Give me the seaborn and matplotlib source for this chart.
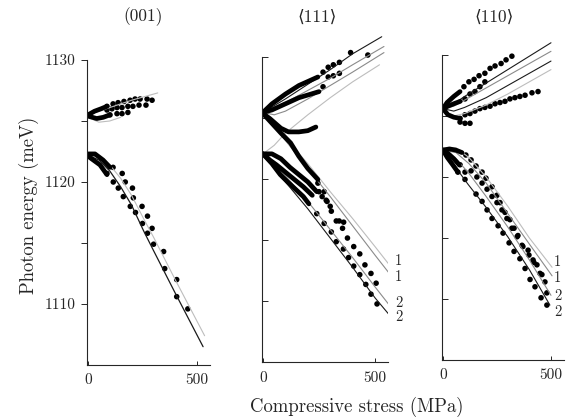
import matplotlib
matplotlib.use("Agg")
import matplotlib.pyplot as plt
import seaborn as sns

# ---------------- panel 1 : (001) ----------------
p1_low_dark_x = [0, 50, 100, 150, 200, 255, 300, 400, 528]
p1_low_dark_y = [1122.2, 1121.8, 1120.9, 1119.6, 1118.1, 1116.0, 1114.4, 1110.9, 1106.5]
p1_low_gray_x = [0, 50, 100, 150, 200, 255, 300, 400, 535]
p1_low_gray_y = [1122.2, 1122.0, 1121.4, 1120.3, 1118.9, 1117.0, 1115.5, 1112.0, 1107.4]
p1_up_gray_x = [0, 100, 200, 320]
p1_up_gray_y = [1125.5, 1126.1, 1126.7, 1127.3]
p1_up_gray2_x = [0, 50, 100, 150]
p1_up_gray2_y = [1125.3, 1124.9, 1125.0, 1125.3]

p1_band_up1_x = [0, 30, 60, 87]
p1_band_up1_y = [1125.5, 1125.8, 1126.0, 1126.2]
p1_band_up2_x = [0, 40, 70, 100]
p1_band_up2_y = [1125.4, 1125.2, 1125.3, 1125.5]
p1_band_low1_x = [0, 32, 69, 101]
p1_band_low1_y = [1122.3, 1122.3, 1121.8, 1121.2]
p1_band_low2_x = [0, 9, 55, 87]
p1_band_low2_y = [1122.2, 1122.0, 1121.4, 1120.6]

p1_dots_up_a_x = [87, 115, 138, 165, 193, 216, 239, 271, 294]
p1_dots_up_a_y = [1126.2, 1126.4, 1126.5, 1126.6, 1126.7, 1126.8, 1126.8, 1126.8, 1126.7]
p1_dots_up_b_x = [87, 110, 133, 156, 183, 206, 234, 266]
p1_dots_up_b_y = [1125.9, 1126.0, 1126.1, 1126.1, 1126.2, 1126.2, 1126.3, 1126.3]
p1_dots_up_c_x = [101, 133, 156, 183]
p1_dots_up_c_y = [1125.5, 1125.6, 1125.6, 1125.7]
p1_dots_low_a_x = [87, 115, 116, 139, 162, 194, 218, 250, 273, 301, 352, 407, 458]
p1_dots_low_a_y = [1120.7, 1121.2, 1120.0, 1119.5, 1118.8, 1118.0, 1117.5, 1116.6, 1115.8, 1114.9, 1112.9, 1110.6, 1109.6]
p1_dots_low_b_x = [157, 171, 204, 208, 248, 273, 294, 347, 407]
p1_dots_low_b_y = [1120.7, 1120.0, 1119.5, 1118.7, 1118.0, 1117.2, 1116.2, 1114.3, 1112.0]

# ---------------- panel 2 : <111> ----------------
p2_up_black_x = [0, 100, 200, 300, 400, 530]
p2_up_black_y = [1125.5, 1126.6, 1127.8, 1129.0, 1130.3, 1131.7]
p2_up_gray_x = [0, 100, 200, 300, 400, 540]
p2_up_gray_y = [1125.5, 1126.3, 1127.3, 1128.3, 1129.4, 1130.9]
p2_up_gray2_x = [0, 50, 100, 200, 300, 400, 540]
p2_up_gray2_y = [1125.5, 1125.3, 1125.6, 1126.6, 1127.7, 1128.8, 1130.4]
p2_rise_light_x = [0, 50, 100, 200, 300, 400, 520]
p2_rise_light_y = [1122.1, 1122.8, 1123.8, 1125.3, 1126.7, 1128.0, 1129.4]
p2_l1a_x = [0, 114, 200, 300, 400, 500, 564]
p2_l1a_y = [1125.5, 1123.1, 1121.3, 1119.0, 1116.8, 1114.5, 1113.0]
p2_l1b_x = [0, 100, 200, 300, 400, 500, 564]
p2_l1b_y = [1125.5, 1123.2, 1120.9, 1118.6, 1116.2, 1113.8, 1112.3]
p2_l2a_x = [0, 50, 100, 200, 300, 400, 500, 564]
p2_l2a_y = [1122.1, 1121.2, 1120.3, 1118.2, 1115.9, 1113.6, 1111.2, 1109.7]
p2_l2b_x = [0, 50, 100, 200, 300, 400, 500, 564]
p2_l2b_y = [1122.1, 1120.9, 1119.8, 1117.6, 1115.2, 1112.8, 1110.3, 1108.9]

p2_band_u1_x = [0, 40, 100, 160, 245]
p2_band_u1_y = [1125.5, 1126.2, 1127.0, 1127.7, 1128.4]
p2_band_u2_x = [0, 40, 100, 160, 250]
p2_band_u2_y = [1125.5, 1125.7, 1126.2, 1126.7, 1127.2]
p2_band_dip_x = [0, 30, 55, 80, 114, 160, 200, 236]
p2_band_dip_y = [1125.4, 1125.0, 1124.6, 1124.2, 1123.9, 1123.9, 1124.0, 1124.3]
p2_band_cross_x = [0, 40, 80, 123, 160, 200, 245]
p2_band_cross_y = [1125.4, 1124.6, 1123.8, 1123.0, 1121.9, 1120.9, 1120.0]
p2_band_l1_x = [0, 40, 77, 110, 145, 180, 205]
p2_band_l1_y = [1122.1, 1121.3, 1120.4, 1119.8, 1119.2, 1118.6, 1118.0]
p2_band_l2_x = [0, 40, 80, 120, 160, 200, 240]
p2_band_l2_y = [1122.1, 1122.1, 1121.7, 1121.0, 1120.4, 1119.8, 1119.0]
p2_band_l3_x = [0, 30, 60, 100, 140, 180, 220]
p2_band_l3_y = [1122.1, 1121.6, 1121.2, 1120.6, 1120.0, 1119.4, 1118.7]

p2_dots_up_a_x = [268, 291, 314, 341, 391]
p2_dots_up_a_y = [1128.8, 1129.2, 1129.4, 1129.6, 1130.4]
p2_dots_up_b_x = [268, 291, 314, 341, 468]
p2_dots_up_b_y = [1127.6, 1128.4, 1128.5, 1128.7, 1130.2]
p2_dots_low_a_x = [240, 273, 305, 327, 359, 382, 405, 432, 459, 482, 509]
p2_dots_low_a_y = [1117.2, 1116.4, 1115.7, 1114.9, 1114.3, 1113.6, 1112.9, 1112.2, 1111.4, 1110.6, 1109.8]
p2_dots_low_b_x = [245, 273, 286, 305, 327, 355, 377, 405, 432, 455, 482, 505]
p2_dots_low_b_y = [1119.7, 1119.0, 1118.2, 1117.4, 1116.6, 1116.0, 1115.2, 1114.5, 1113.9, 1113.0, 1112.3, 1111.5]
p2_dots_low_c_x = [250, 264, 282, 300, 340, 360]
p2_dots_low_c_y = [1119.0, 1118.6, 1118.3, 1117.8, 1116.6, 1116.5]

p2_lab_x = [605, 605, 605, 605]
p2_lab_y = [1113.3, 1112.0, 1109.9, 1108.7]

# ---------------- panel 3 : <110> ----------------
p3_up_b1_x = [0, 50, 100, 200, 300, 400, 500]
p3_up_b1_y = [1125.6, 1126.0, 1126.6, 1127.7, 1128.8, 1129.9, 1131.0]
p3_up_g1_x = [0, 50, 100, 200, 300, 400, 500]
p3_up_g1_y = [1125.6, 1125.8, 1126.3, 1127.3, 1128.3, 1129.3, 1130.3]
p3_up_b2_x = [0, 50, 100, 200, 300, 400, 500]
p3_up_b2_y = [1125.6, 1125.4, 1125.7, 1126.5, 1127.5, 1128.5, 1129.5]
p3_up_g2_x = [0, 50, 100, 200, 300, 400, 500]
p3_up_g2_y = [1125.4, 1125.0, 1125.2, 1125.9, 1126.8, 1127.8, 1128.8]
p3_l1a_x = [0, 60, 120, 200, 300, 400, 505]
p3_l1a_y = [1122.4, 1122.4, 1121.6, 1120.0, 1117.6, 1115.0, 1112.6]
p3_l1b_x = [0, 60, 120, 200, 300, 400, 505]
p3_l1b_y = [1122.2, 1122.0, 1121.1, 1119.5, 1117.0, 1114.5, 1111.9]
p3_l2a_x = [0, 60, 120, 200, 300, 400, 500]
p3_l2a_y = [1122.2, 1121.5, 1120.3, 1118.4, 1115.9, 1113.2, 1110.3]
p3_l2b_x = [0, 50, 116, 200, 300, 400, 495]
p3_l2b_y = [1122.2, 1121.0, 1119.4, 1117.5, 1115.1, 1112.4, 1109.5]

p3_band_u1_x = [0, 19, 50, 79]
p3_band_u1_y = [1125.6, 1126.1, 1126.6, 1127.0]
p3_band_u2_x = [0, 23, 50, 80]
p3_band_u2_y = [1125.6, 1125.8, 1126.0, 1126.2]
p3_band_u3_x = [0, 23, 50, 79]
p3_band_u3_y = [1125.6, 1125.1, 1124.9, 1124.8]
p3_band_l1_x = [0, 30, 60, 88]
p3_band_l1_y = [1122.2, 1122.3, 1122.2, 1122.0]
p3_band_l2_x = [0, 25, 50, 75]
p3_band_l2_y = [1122.2, 1121.9, 1121.5, 1121.0]
p3_band_l3_x = [0, 20, 45, 69]
p3_band_l3_y = [1122.2, 1121.6, 1121.0, 1120.4]

p3_dots_up_a_x = [97, 120, 144, 167, 194, 218, 241, 269, 292, 319]
p3_dots_up_a_y = [1127.4, 1127.8, 1128.0, 1128.3, 1128.5, 1128.9, 1129.1, 1129.3, 1129.6, 1129.9]
p3_dots_up_b_x = [102, 125, 148, 171, 194]
p3_dots_up_b_y = [1126.4, 1126.8, 1127.0, 1127.4, 1127.8]
p3_dots_up_c_x = [79, 102, 125, 148, 171, 194, 218, 241, 264, 287, 310, 333, 356, 380, 412, 440]
p3_dots_up_c_y = [1124.8, 1125.1, 1125.2, 1125.4, 1125.6, 1125.7, 1125.8, 1126.0, 1126.1, 1126.2, 1126.4, 1126.5, 1126.6, 1126.7, 1126.9, 1127.0]
p3_dots_up_d_x = [79, 102, 125]
p3_dots_up_d_y = [1124.5, 1124.4, 1124.4]
p3_dots_low_a_x = [106, 130, 153, 181, 199, 227, 250, 264, 287, 310, 329, 347, 370, 398, 421, 449, 472, 481]
p3_dots_low_a_y = [1121.8, 1121.4, 1120.9, 1120.4, 1119.9, 1119.2, 1118.5, 1117.9, 1117.1, 1116.5, 1115.8, 1115.2, 1114.3, 1113.6, 1113.0, 1112.1, 1111.4, 1110.5]
p3_dots_low_b_x = [79, 102, 130, 157, 181, 204, 227, 250, 273, 296, 319, 343, 366, 394, 417, 435, 458]
p3_dots_low_b_y = [1121.0, 1120.4, 1120.5, 1120.0, 1119.5, 1119.0, 1118.4, 1117.9, 1117.3, 1116.6, 1115.8, 1115.1, 1114.4, 1114.0, 1113.2, 1112.8, 1112.0]
p3_dots_low_c_x = [69, 102, 153, 181, 204, 227, 255, 278, 306, 329, 356, 380, 403, 426, 454, 481]
p3_dots_low_c_y = [1120.4, 1119.8, 1118.6, 1118.0, 1117.3, 1116.6, 1116.0, 1115.4, 1114.6, 1113.9, 1113.3, 1112.5, 1111.6, 1111.0, 1110.1, 1109.5]

p3_lab_x = [532, 532, 532, 532]
p3_lab_y = [1113.0, 1111.7, 1110.2, 1108.9]

line_labels = ["1", "1", "2", "2"]
titles = ["(001)", "\u27e8111\u27e9", "\u27e8110\u27e9"]

BLACK, GRAY, LIGHT = "#1a1a1a", "#8a8a8a", "#bdbdbd"

sns.set_style("ticks")
plt.rcParams["font.family"] = ["cmr10", "DejaVu Serif"]
plt.rcParams["axes.formatter.use_mathtext"] = True


def curve(ax, x, y, c, lw=0.8):
    sns.lineplot(x=x, y=y, ax=ax, color=c, lw=lw, sort=False, estimator=None, legend=False)


def band(ax, x, y):
    sns.lineplot(x=x, y=y, ax=ax, color="black", lw=3.4, sort=False, estimator=None,
                 legend=False, solid_capstyle="round")


def dots(ax, x, y):
    sns.scatterplot(x=x, y=y, ax=ax, color="black", s=16, edgecolor="none", legend=False)


fig = plt.figure(figsize=(5.79, 4.17), dpi=100)
boxes = [[0.1501, 0.1247, 0.2127, 0.79],
         [0.4523, 0.1307, 0.2186, 0.79],
         [0.7632, 0.1367, 0.2108, 0.79]]
axes = [fig.add_axes(b) for b in boxes]

# panel 1
ax = axes[0]
curve(ax, p1_low_gray_x, p1_low_gray_y, LIGHT)
curve(ax, p1_low_dark_x, p1_low_dark_y, BLACK, 0.9)
curve(ax, p1_up_gray_x, p1_up_gray_y, LIGHT)
curve(ax, p1_up_gray2_x, p1_up_gray2_y, LIGHT)
for bx, by in [(p1_band_up1_x, p1_band_up1_y), (p1_band_up2_x, p1_band_up2_y),
               (p1_band_low1_x, p1_band_low1_y), (p1_band_low2_x, p1_band_low2_y)]:
    band(ax, bx, by)
for dx, dy in [(p1_dots_up_a_x, p1_dots_up_a_y), (p1_dots_up_b_x, p1_dots_up_b_y),
               (p1_dots_up_c_x, p1_dots_up_c_y), (p1_dots_low_a_x, p1_dots_low_a_y),
               (p1_dots_low_b_x, p1_dots_low_b_y)]:
    dots(ax, dx, dy)

# panel 2
ax = axes[1]
curve(ax, p2_up_black_x, p2_up_black_y, BLACK)
curve(ax, p2_up_gray_x, p2_up_gray_y, GRAY)
curve(ax, p2_up_gray2_x, p2_up_gray2_y, GRAY)
curve(ax, p2_rise_light_x, p2_rise_light_y, LIGHT)
curve(ax, p2_l1a_x, p2_l1a_y, LIGHT)
curve(ax, p2_l1b_x, p2_l1b_y, GRAY)
curve(ax, p2_l2a_x, p2_l2a_y, GRAY)
curve(ax, p2_l2b_x, p2_l2b_y, BLACK)
for bx, by in [(p2_band_u1_x, p2_band_u1_y), (p2_band_u2_x, p2_band_u2_y),
               (p2_band_dip_x, p2_band_dip_y), (p2_band_cross_x, p2_band_cross_y),
               (p2_band_l1_x, p2_band_l1_y), (p2_band_l2_x, p2_band_l2_y),
               (p2_band_l3_x, p2_band_l3_y)]:
    band(ax, bx, by)
for dx, dy in [(p2_dots_up_a_x, p2_dots_up_a_y), (p2_dots_up_b_x, p2_dots_up_b_y),
               (p2_dots_low_a_x, p2_dots_low_a_y), (p2_dots_low_b_x, p2_dots_low_b_y),
               (p2_dots_low_c_x, p2_dots_low_c_y)]:
    dots(ax, dx, dy)
for lx, ly, t in zip(p2_lab_x, p2_lab_y, line_labels):
    ax.text(lx, ly, t, fontsize=10.5, ha="center", va="center", clip_on=False)

# panel 3
ax = axes[2]
curve(ax, p3_up_b1_x, p3_up_b1_y, BLACK)
curve(ax, p3_up_g1_x, p3_up_g1_y, GRAY)
curve(ax, p3_up_b2_x, p3_up_b2_y, BLACK)
curve(ax, p3_up_g2_x, p3_up_g2_y, LIGHT)
curve(ax, p3_l1a_x, p3_l1a_y, LIGHT)
curve(ax, p3_l1b_x, p3_l1b_y, GRAY)
curve(ax, p3_l2a_x, p3_l2a_y, GRAY)
curve(ax, p3_l2b_x, p3_l2b_y, BLACK)
for bx, by in [(p3_band_u1_x, p3_band_u1_y), (p3_band_u2_x, p3_band_u2_y),
               (p3_band_u3_x, p3_band_u3_y), (p3_band_l1_x, p3_band_l1_y),
               (p3_band_l2_x, p3_band_l2_y), (p3_band_l3_x, p3_band_l3_y)]:
    band(ax, bx, by)
for dx, dy in [(p3_dots_up_a_x, p3_dots_up_a_y), (p3_dots_up_b_x, p3_dots_up_b_y),
               (p3_dots_up_c_x, p3_dots_up_c_y), (p3_dots_up_d_x, p3_dots_up_d_y),
               (p3_dots_low_a_x, p3_dots_low_a_y), (p3_dots_low_b_x, p3_dots_low_b_y),
               (p3_dots_low_c_x, p3_dots_low_c_y)]:
    dots(ax, dx, dy)
for lx, ly, t in zip(p3_lab_x, p3_lab_y, line_labels):
    ax.text(lx, ly, t, fontsize=10.5, ha="center", va="center", clip_on=False)

# axes styling
for i, ax in enumerate(axes):
    ax.set_xlim(-5, 560)
    ax.set_ylim(1105, 1132)
    sns.despine(ax=ax)
    ax.spines["left"].set_bounds(1105, 1130)
    ax.spines["left"].set_linewidth(0.8)
    ax.spines["bottom"].set_linewidth(0.8)
    ax.set_xticks([0, 500])
    ax.set_xticklabels(["0", "500"], fontsize=11)
    ax.set_yticks([1110, 1115, 1120, 1125, 1130])
    if i == 0:
        ax.set_yticklabels(["1110", "", "1120", "", "1130"], fontsize=11)
        ax.tick_params(axis="y", direction="out", length=4, width=0.7, pad=4)
    else:
        ax.set_yticklabels([])
        ax.tick_params(axis="y", direction="in", length=4, width=0.7)
    ax.tick_params(axis="x", direction="in", length=3, width=0.7, pad=6)
    ax.set_xlabel("")
    ax.set_ylabel("")
    ax.patch.set_alpha(0)

title_x = [143, 317, 494]
for t, tx in zip(titles, title_x):
    fig.text(tx / 579, 1 - 17 / 417, t, fontsize=12.5, ha="center", va="center")

fig.text(29 / 579, 1 - 205 / 417, "Photon energy (meV)", rotation=90,
         fontsize=13.5, ha="center", va="center")
fig.text(357 / 579, 1 - 407 / 417, "Compressive stress (MPa)",
         fontsize=13.5, ha="center", va="center")

fig.savefig("out.png", dpi=100)
